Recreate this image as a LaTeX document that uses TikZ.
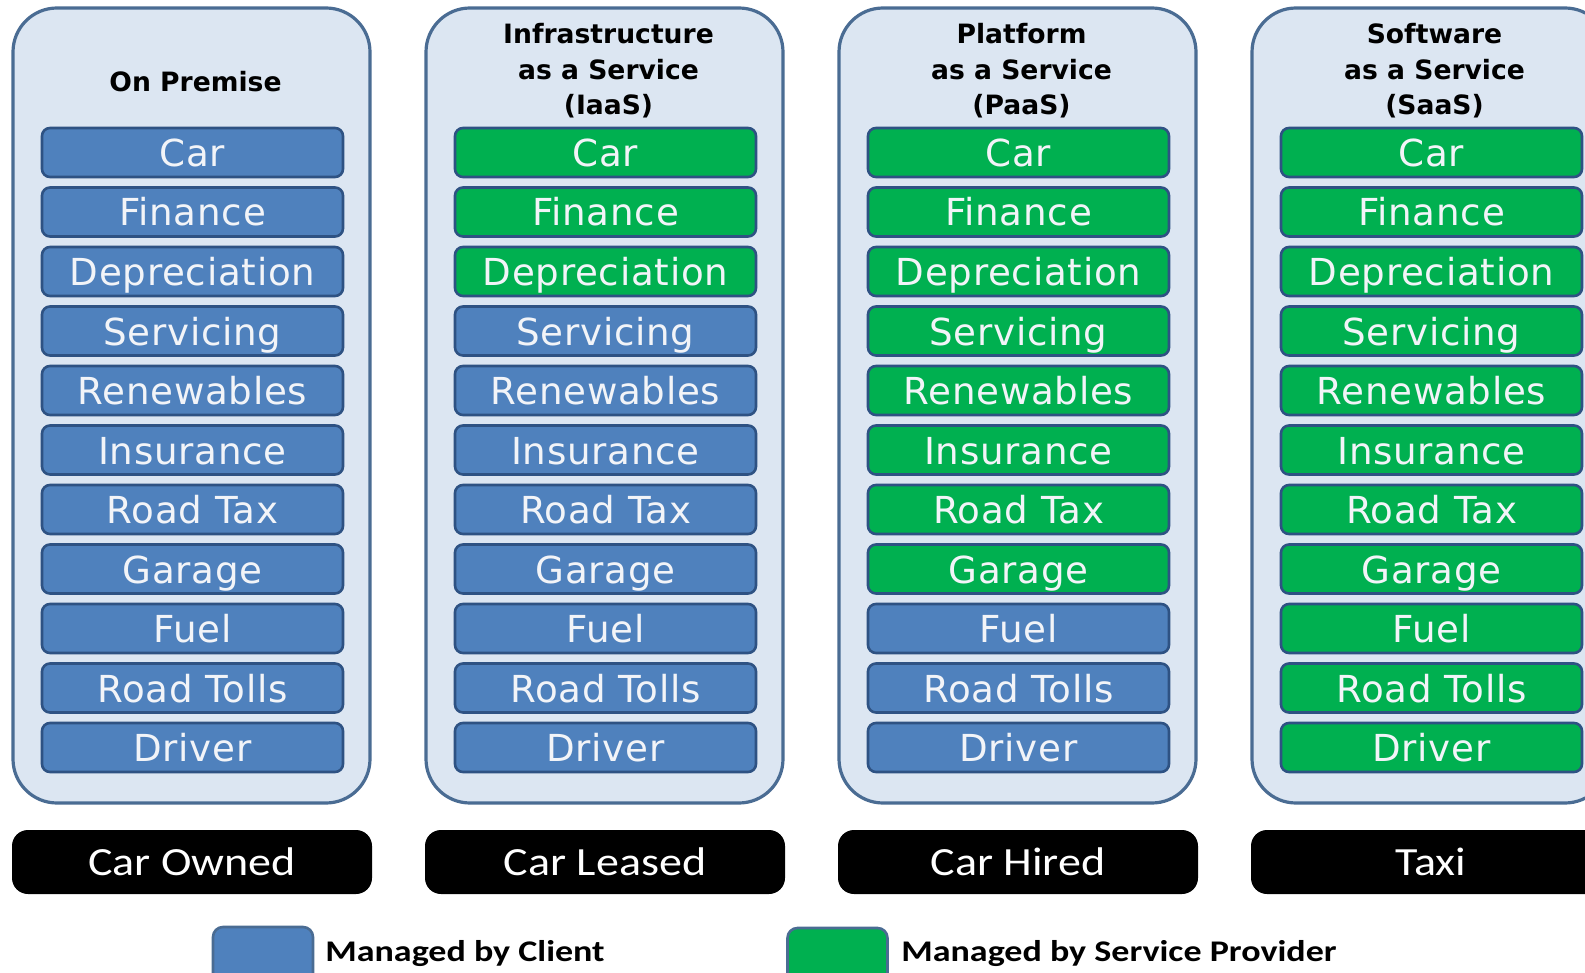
\documentclass[tikz,border=0pt]{standalone}
\usepackage{fontspec}
\setmainfont{DejaVu Sans}
\newfontfamily\itemfont[LetterSpace=2]{DejaVu Sans}
\newfontfamily\calib[FakeStretch=1.15]{Carlito}
\newfontfamily\legfont[FakeStretch=1.2]{Carlito}
\definecolor{outerfill}{HTML}{DCE6F2}
\definecolor{outerline}{HTML}{4A6C93}
\definecolor{itemline}{HTML}{2E5283}
\definecolor{clientblue}{HTML}{4F81BD}
\definecolor{providergreen}{HTML}{00B050}
\definecolor{itemtext}{HTML}{F2F4F8}
\begin{document}
\begin{tikzpicture}[x=0.5pt,y=-0.5pt,
  outerbox/.style={draw=outerline, line width=1.6pt, fill=outerfill, rounded corners=22pt,
    minimum width=178.5pt, minimum height=397.5pt, inner sep=0pt},
  item/.style={draw=itemline, line width=1.3pt, rounded corners=4pt, minimum width=150.5pt,
    minimum height=24.5pt, inner sep=0pt, text height=14pt, text depth=0pt,
    text=itemtext, font=\itemfont\fontsize{18.6}{22}\selectfont},
  client/.style={item, fill=clientblue},
  provider/.style={item, fill=providergreen},
  title/.style={font=\bfseries\fontsize{13.3}{17.75}\selectfont, align=center, text=black},
  model/.style={fill=black, rounded corners=8pt, minimum width=180pt, minimum height=32pt,
    inner sep=0pt, text=white, font=\calib\fontsize{20}{24}\selectfont},
  legbox/.style={draw=outerline, line width=1.3pt, rounded corners=5pt, minimum width=50pt,
    minimum height=30pt, inner sep=0pt},
  legtext/.style={anchor=west, inner sep=0pt, font=\legfont\bfseries\fontsize{15}{18}\selectfont}
]
\useasboundingbox (0,0) rectangle (1585,973);
\clip (0,0) rectangle (1585,973);
\fill[white] (0,0) rectangle (1585,973);
\foreach \i/\ttl/\ng in {0/{On Premise}/0,
    1/{Infrastructure\\as a Service\\(IaaS)}/3,
    2/{Platform\\as a Service\\(PaaS)}/8,
    3/{Software\\as a Service\\(SaaS)}/11}{
  \pgfmathsetmacro{\cx}{192.5+413*\i}
  \node[outerbox] (outer\i) at (13+413*\i+178.5, 405.5) {};
  \ifnum\i=0
    \node[title] (title\i) at (\cx+3, 82) {\ttl};
  \else
    \node[title] (title\i) at (\cx+3, 71) {\ttl};
  \fi
  \foreach \lab [count=\j from 0] in {Car,Finance,Depreciation,Servicing,Renewables,Insurance,Road Tax,Garage,Fuel,Road Tolls,Driver}{
    \ifnum\j<\ng \def\sty{provider}\else\def\sty{client}\fi
    \node[\sty] (item\i-\j) at (\cx, 152.5+59.5*\j) {\lab};
  }
}
\node[model] (model0) at (192, 862) {Car Owned};
\node[model] (model1) at (605, 862) {Car Leased};
\node[model] (model2) at (1018, 862) {Car Hired};
\node[model] (model3) at (1431, 862) {Taxi};
\node[legbox, fill=clientblue] (legc) at (263, 957) {};
\node[legtext] (legctext) at (325, 954) {Managed by Client};
\node[legbox, fill=providergreen] (legp) at (837.5, 958) {};
\node[legtext] (legptext) at (901, 954) {Managed by Service Provider};
\end{tikzpicture}
\end{document}
